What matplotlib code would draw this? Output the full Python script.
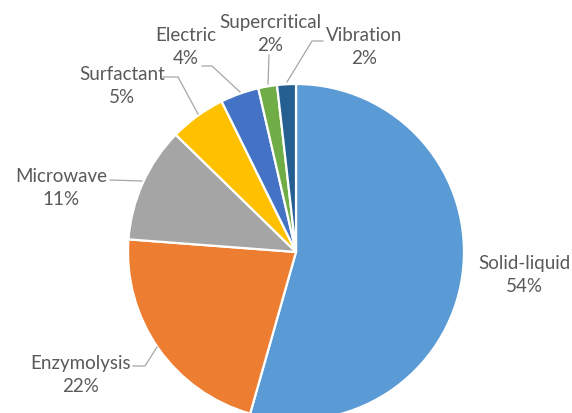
import matplotlib
matplotlib.use("Agg")
import matplotlib.pyplot as plt

# dados do gráfico
metodos = ["Solid-liquid", "Enzymolysis", "Microwave", "Surfactant",
           "Electric", "Supercritical", "Vibration"]
valores = [54.4, 21.8, 11.1, 5.4, 3.7, 1.8, 1.8]
cores = ["#5B9BD5", "#ED7D31", "#A5A5A5", "#FFC000",
         "#4472C4", "#70AD47", "#255E91"]

W, H = 572, 414
fig = plt.figure(figsize=(W / 100, H / 100), dpi=100)
ax = fig.add_axes([0, 0, 1, 1])

# eixo em pixels (y para cima)
cx, cy, r = 296, H - 253, 168
ax.pie(valores, colors=cores, startangle=90, counterclock=False,
       center=(cx, cy), radius=r,
       wedgeprops=dict(edgecolor="white", linewidth=1.6))
ax.set_xlim(0, W)
ax.set_ylim(0, H)
ax.axis("off")

# posições dos rótulos (centro do texto) e linhas de chamada, em pixels
pos_rotulos = {
    "Solid-liquid": (524, 275),
    "Enzymolysis": (81, 375),
    "Microwave": (61, 188),
    "Surfactant": (122, 86),
    "Electric": (186, 47),
    "Supercritical": (270, 34),
    "Vibration": (364, 47),
}
linhas = {
    "Enzymolysis": [(133, 367), (145, 367), (157, 348)],
    "Microwave": [(110, 181), (142, 182)],
    "Surfactant": [(163, 78), (178, 78), (198, 115)],
    "Electric": [(202, 67), (212, 67), (240, 93)],
    "Supercritical": [(269, 56), (268, 85)],
    "Vibration": [(323, 42), (312, 42), (287, 83)],
}

total = sum(valores)
for nome, v in zip(metodos, valores):
    x, y = pos_rotulos[nome]
    ax.text(x, H - y, f"{nome}\n{round(v / total * 100)}%", ha="center", va="center",
            fontsize=13.5, color="#595959", family="Lato", linespacing=1.4)

for nome, pts in linhas.items():
    xs = [p[0] for p in pts]
    ys = [H - p[1] for p in pts]
    ax.plot(xs, ys, color="#A6A6A6", linewidth=0.9)

fig.savefig("out.png", dpi=100)
